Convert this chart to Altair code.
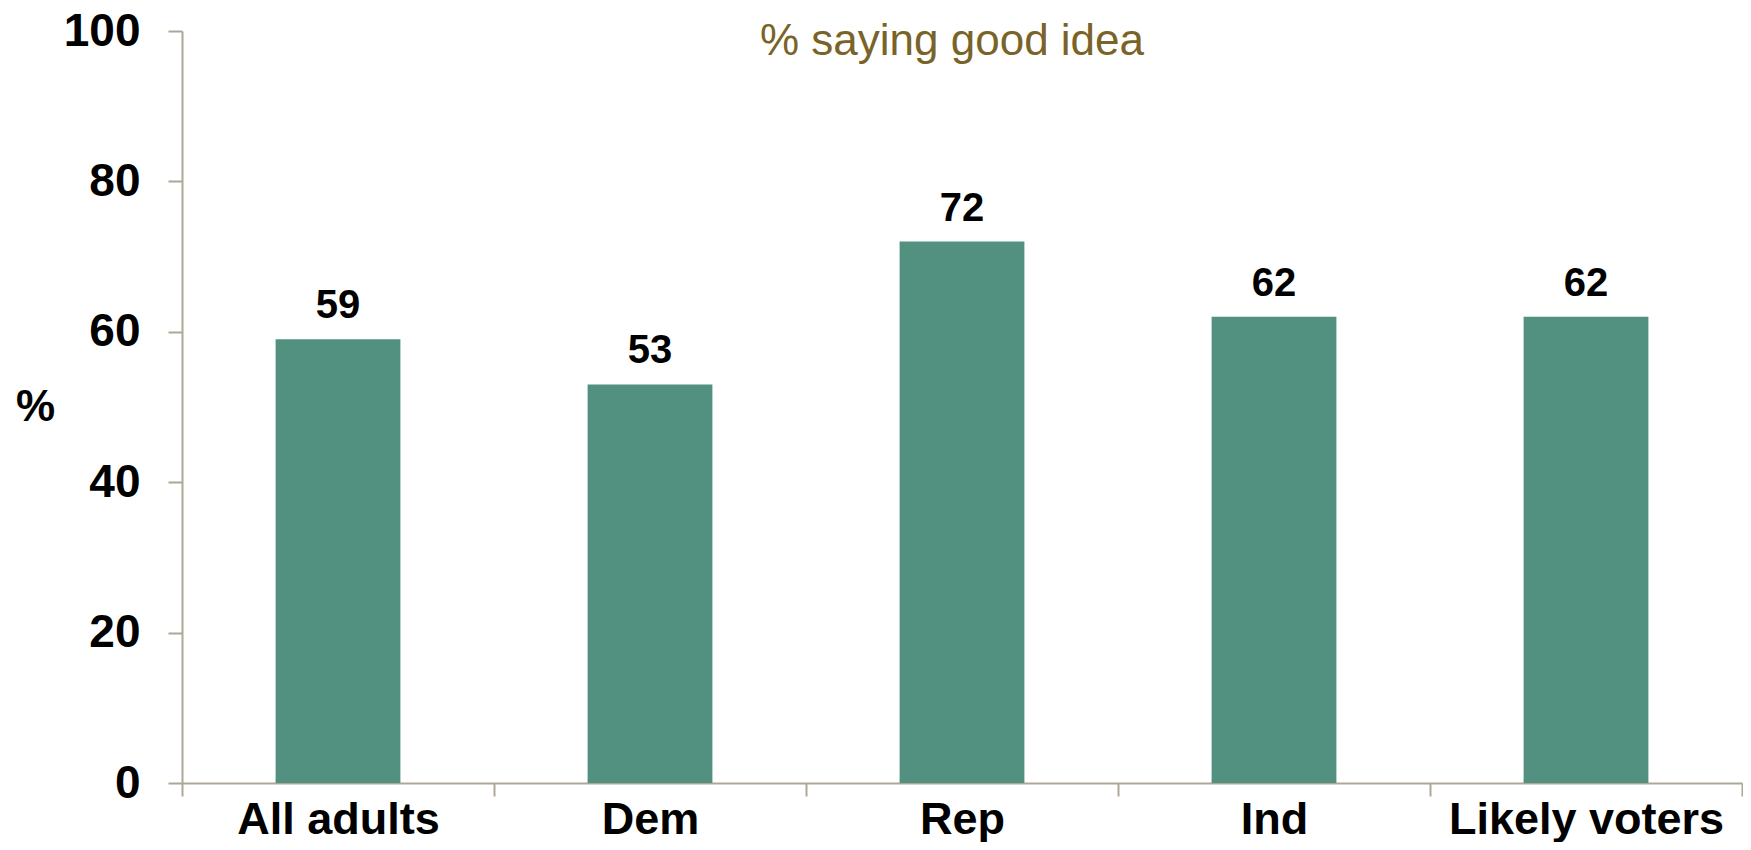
import altair as alt
import pandas as pd

categories = ["All adults", "Dem", "Rep", "Ind", "Likely voters"]
values = [59, 53, 72, 62, 62]
y_ticks = [0, 20, 40, 60, 80, 100]
title_text = "% saying good idea"

df = pd.DataFrame({"group": categories, "pct": values})
title_df = pd.DataFrame({"t": [title_text]})

FONT = "Liberation Sans"
AXIS_COLOR = "#aea797"
BAR_COLOR = "#529180"

x_enc = alt.X(
    "group:N",
    sort=categories,
    scale=alt.Scale(paddingInner=0, paddingOuter=0),
    axis=alt.Axis(
        title=None,
        labelAngle=0,
        labelFont=FONT,
        labelFontSize=45,
        labelFontWeight="bold",
        labelColor="#000000",
        labelPadding=37,
        labelBaseline="alphabetic",
        labelLimit=0,
        tickBand="extent",
        tickSize=13,
        tickColor=AXIS_COLOR,
        tickWidth=2,
        domainColor=AXIS_COLOR,
        domainWidth=2,
        grid=False,
    ),
)

y_enc = alt.Y(
    "pct:Q",
    scale=alt.Scale(domain=[0, 100], nice=False),
    axis=alt.Axis(
        values=y_ticks,
        title="%",
        titleAngle=0,
        titleFont=FONT,
        titleFontSize=44,
        titleFontWeight="bold",
        titleColor="#000000",
        titleAlign="center",
        titleBaseline="middle",
        titleX=-147,
        titleY=376,
        labelFont=FONT,
        labelFontSize=46,
        labelFontWeight="bold",
        labelColor="#000000",
        labelPadding=28,
        tickSize=14,
        tickColor=AXIS_COLOR,
        tickWidth=2,
        domainColor=AXIS_COLOR,
        domainWidth=2,
        grid=False,
    ),
)

base = alt.Chart(df).encode(x=x_enc, y=y_enc)

bars = base.mark_bar(color=BAR_COLOR, width=alt.RelativeBandSize(0.4))

labels = base.mark_text(
    font=FONT,
    fontSize=40,
    fontWeight="bold",
    color="#000000",
    baseline="alphabetic",
    dy=-21,
).encode(text="pct:Q")

title = alt.Chart(title_df).mark_text(
    font=FONT,
    fontSize=44,
    color="#7a6328",
    align="center",
    baseline="alphabetic",
).encode(x=alt.value(770), y=alt.value(24), text="t:N")

chart = (
    alt.layer(bars, labels, title)
    .properties(
        width=1560,
        height=752,
        padding={"left": 174, "top": 23, "right": 1, "bottom": 59},
        autosize=alt.AutoSizeParams(type="none"),
        background="#ffffff",
    )
    .configure_view(strokeWidth=0, stroke="transparent")
    .configure_axis(grid=False)
)

chart.save("out.html", embed_options={"renderer": "svg", "actions": False})
